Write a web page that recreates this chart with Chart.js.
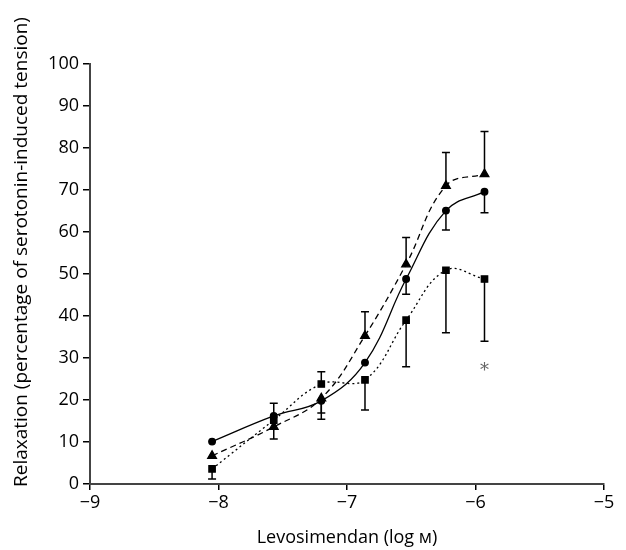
<!DOCTYPE html>
<html>
<head>
<meta charset="utf-8">
<script src="https://cdn.jsdelivr.net/npm/chart.js@4/dist/chart.umd.min.js"></script>
<style>
  body { margin: 0; background: #fff; }
  #wrap { width: 626px; height: 550px; }
</style>
</head>
<body>
<div id="wrap"><canvas id="myChart"></canvas></div>
<script>
// log concentrations of levosimendan
const logConc = [-8.05, -7.57, -7.2, -6.86, -6.54, -6.23, -5.93];

// mean relaxation, one array per series
const circleVals = [10.1, 16.2, 19.8, 28.9, 48.8, 65.1, 69.6];
const triangleVals = [6.7, 13.6, 20.4, 35.3, 52.3, 71.0, 73.8];
const squareVals = [3.6, 15.2, 23.8, 24.8, 39.0, 50.9, 48.8];

// error bar ends (null = no bar drawn)
const circleErrEnd = [null, 19.2, 16.9, null, 45.2, 60.5, 64.6];
const triangleErrEnd = [null, 10.7, 15.4, 41.0, 58.7, 78.9, 83.9];
const squareErrEnd = [1.2, null, 26.7, 17.6, 27.9, 36.0, 34.0];

const xTicks = [-9, -8, -7, -6, -5];
const yTicks = [0, 10, 20, 30, 40, 50, 60, 70, 80, 90, 100];
const asterisk = { x: -5.93, y: 27.7 };
const yTitle = "Relaxation (percentage of serotonin-induced tension)";

const toPoints = vals => vals.map((v, i) => ({ x: logConc[i], y: v }));
const font = "'Open Sans', 'Noto Sans', sans-serif";

const errorBars = {
    id: "errorBars",
    afterDatasetsDraw(chart) {
        const ctx = chart.ctx;
        const xs = chart.scales.x, ys = chart.scales.y;
        ctx.save();
        ctx.strokeStyle = "#000";
        ctx.lineWidth = 1.5;
        chart.data.datasets.forEach(ds => {
            ds.errEnd.forEach((e, i) => {
                if (e === null) return;
                const px = xs.getPixelForValue(logConc[i]);
                const y0 = ys.getPixelForValue(ds.data[i].y);
                const y1 = ys.getPixelForValue(e);
                ctx.beginPath();
                ctx.moveTo(px, y0); ctx.lineTo(px, y1);
                ctx.moveTo(px - 4, y1); ctx.lineTo(px + 4, y1);
                ctx.stroke();
            });
        });
        ctx.fillStyle = "#666";
        ctx.font = "18px 'DejaVu Serif', serif";
        ctx.textAlign = "center";
        ctx.textBaseline = "middle";
        ctx.fillText("*", xs.getPixelForValue(asterisk.x), ys.getPixelForValue(asterisk.y) + 4);

        // y axis title, drawn by hand so it sits where the original has it
        ctx.fillStyle = "#000";
        ctx.font = "19px " + font;
        ctx.translate(22, 252);
        ctx.rotate(-Math.PI / 2);
        ctx.fillText(yTitle, 0, 0);
        ctx.restore();
    }
};

const common = {
    borderColor: "#000",
    backgroundColor: "#000",
    borderWidth: 1.3,
    pointBackgroundColor: "#000",
    pointBorderColor: "#000",
    showLine: true,
    tension: 0.4
};

new Chart(document.getElementById("myChart"), {
    type: "scatter",
    data: {
        datasets: [
            Object.assign({}, common, {
                label: "circle",
                data: toPoints(circleVals),
                errEnd: circleErrEnd,
                pointStyle: "circle",
                pointRadius: 3.3
            }),
            Object.assign({}, common, {
                label: "triangle",
                data: toPoints(triangleVals),
                errEnd: triangleErrEnd,
                pointStyle: "triangle",
                pointRadius: 5,
                borderDash: [6, 4]
            }),
            Object.assign({}, common, {
                label: "square",
                data: toPoints(squareVals),
                errEnd: squareErrEnd,
                pointStyle: "rect",
                pointRadius: 4.5,
                borderDash: [2, 3]
            })
        ]
    },
    options: {
        responsive: true,
        maintainAspectRatio: false,
        animation: false,
        layout: { padding: { top: 64, right: 22, left: 0, bottom: 0 } },
        plugins: {
            legend: { display: false },
            tooltip: { enabled: false }
        },
        scales: {
            x: {
                type: "linear",
                min: -9,
                max: -5,
                afterBuildTicks: s => { s.ticks = xTicks.map(v => ({ value: v })); },
                afterFit: s => { s.height = 66; },
                ticks: {
                    color: "#000",
                    font: { family: font, size: 18 },
                    padding: 2,
                    callback: v => String(v).replace("-", "\u2212")
                },
                grid: { drawOnChartArea: false, drawTicks: true, tickLength: 6, color: "#000", lineWidth: 1.5 },
                border: { color: "#444", width: 2 },
                title: {
                    display: true,
                    text: "Levosimendan (log м)",
                    color: "#000",
                    font: { family: font, size: 18 },
                    padding: { top: 2, bottom: 1 }
                }
            },
            y: {
                min: 0,
                max: 100,
                afterBuildTicks: s => { s.ticks = yTicks.map(v => ({ value: v })); },
                afterFit: s => { s.width = 90; },
                ticks: {
                    color: "#000",
                    font: { family: font, size: 18 },
                    padding: 4
                },
                grid: { drawOnChartArea: false, drawTicks: true, tickLength: 7, color: "#000", lineWidth: 1.5 },
                border: { color: "#444", width: 2 }
            }
        }
    },
    plugins: [errorBars]
});
</script>
</body>
</html>
